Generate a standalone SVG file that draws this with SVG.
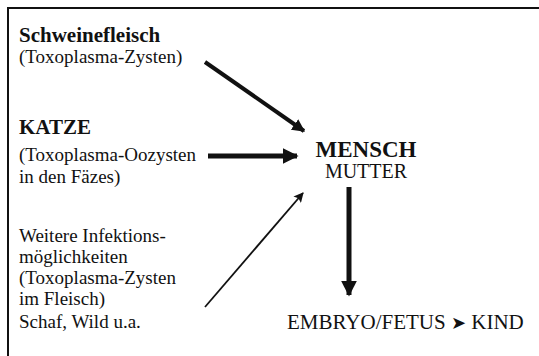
<svg xmlns="http://www.w3.org/2000/svg" width="539" height="356" viewBox="0 0 539 356">
<defs>
<style>
text{font-family:'Liberation Serif',serif}
.t{font-size:19px;fill:#111}
.b{font-size:21px;font-weight:bold;fill:#111}
.sym{font-family:'DejaVu Sans',sans-serif;font-size:18px}
.frame{stroke:#111;stroke-width:2;fill:none}
.c{stroke:#111;fill:none}
</style>
<marker id="ah" viewBox="0 0 10 10" refX="9" refY="5" markerWidth="3.2" markerHeight="3.2" orient="auto" markerUnits="strokeWidth">
<path d="M0,0 L10,5 L0,10 Z" fill="#111"/>
</marker>
<marker id="ahs" viewBox="0 0 10 10" refX="9" refY="5" markerWidth="5.5" markerHeight="5.5" orient="auto" markerUnits="strokeWidth">
<path d="M0,0 L10,5 L0,10 L2,5 Z" fill="#111"/>
</marker>
</defs>
<g id="frame">
<path class="frame" d="M8,356 L8,8 L539,8"/>
</g>
<g id="schweinefleisch">
<text class="b" x="19" y="42">Schweinefleisch</text>
<text class="t" x="19" y="63">(Toxoplasma-Zysten)</text>
</g>
<g id="katze">
<text class="b" x="19" y="134">KATZE</text>
<text class="t" x="19" y="161">(Toxoplasma-Oozysten</text>
<text class="t" x="19" y="183">in den Fäzes)</text>
</g>
<g id="weitere">
<text class="t" x="19" y="242">Weitere Infektions-</text>
<text class="t" x="19" y="263">möglichkeiten</text>
<text class="t" x="19" y="284">(Toxoplasma-Zysten</text>
<text class="t" x="19" y="305">im Fleisch)</text>
<text class="t" x="19" y="328">Schaf, Wild u.a.</text>
</g>
<g id="mensch">
<text class="b" x="366" y="157" text-anchor="middle" style="font-size:23px">MENSCH</text>
<text class="t" x="366" y="178" text-anchor="middle" style="font-size:20px">MUTTER</text>
</g>
<g id="kind">
<text class="t" x="287" y="329" style="font-size:21px">EMBRYO/FETUS <tspan class="sym">➤</tspan> KIND</text>
</g>
<g id="connectors">
<line class="c" x1="205" y1="62" x2="304" y2="131" stroke-width="4" marker-end="url(#ah)"/>
<line class="c" x1="208" y1="156" x2="297" y2="156" stroke-width="5" marker-end="url(#ah)"/>
<line class="c" x1="205" y1="307" x2="303" y2="193" stroke-width="1.8" marker-end="url(#ahs)"/>
<line class="c" x1="349" y1="187" x2="349" y2="295" stroke-width="5" marker-end="url(#ah)"/>
</g>
</svg>
